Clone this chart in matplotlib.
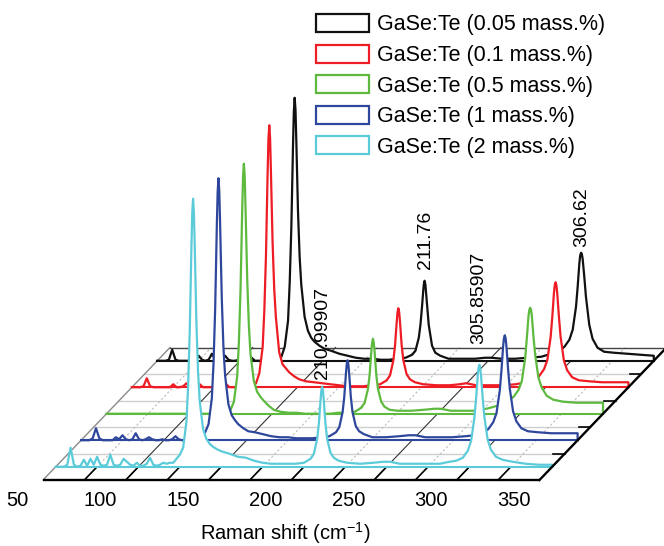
import numpy as np
import matplotlib
matplotlib.use("Agg")
import matplotlib.pyplot as plt
from matplotlib.patches import Patch

plt.rcParams['font.family'] = ['Liberation Sans', 'DejaVu Sans']
plt.rcParams['mathtext.fontset'] = 'custom'
plt.rcParams['mathtext.rm'] = 'Liberation Sans'
plt.rcParams['mathtext.it'] = 'Liberation Sans:italic'

# ---------------- data ----------------
raman_shift = [
    50, 53, 55, 57, 59, 61, 63, 65, 67, 69,
    71, 73, 75, 77, 79, 81, 83, 85, 87, 89,
    91, 93, 95, 97, 99, 101, 103, 105, 107, 109,
    111, 113, 115, 117, 119, 121, 123, 125, 127, 129,
    130, 131, 132, 132.5, 133, 133.5, 134, 135, 136, 137,
    139, 141, 143, 145, 148, 151, 155, 160, 165, 170,
    175, 180, 185, 190, 195, 200, 204, 206, 208, 209,
    210, 210.5, 211, 211.5, 212, 213, 214, 216, 218, 221,
    226, 234, 242, 248, 252, 258, 266, 274, 282, 288,
    292, 296, 299, 301, 303, 304, 305, 305.5, 306, 306.5,
    307, 308, 309, 311, 313, 316, 320, 326, 334, 342,
    350]

int_005 = [
    0, 0, 0, 1, 11, 1, 0, 0, 0, 0,
    0, 0, 5, 1, 0, 1, 7, 1, 0, 1,
    5, 1, 0, 0, 1, 0, 0, 1, 3, 0,
    0, 0, 0, 0, 0, 0, 1, 4, 14, 40,
    78, 134, 215, 249, 263, 251, 220, 150, 104, 76,
    44, 30, 23, 19, 15, 12, 10, 7, 5, 3,
    2, 2, 1, 1, 2, 3, 6, 10, 23, 36,
    55, 66, 76, 80, 76, 56, 36, 15, 8, 5,
    2, 2, 2, 3, 3, 2, 2, 3, 4, 7,
    9, 14, 21, 31, 54, 74, 97, 105, 108, 107,
    102, 84, 64, 36, 22, 13, 9, 8, 7, 6,
    5]

int_01 = [
    0, 0, 0, 1, 9, 1, 0, 0, 0, 0,
    0, 0, 3, 0, 0, 1, 4, 0, 0, 1,
    3, 0, 0, 0, 0, 0, 0, 1, 3, 0,
    0, 0, 0, 0, 0, 0, 1, 4, 14, 40,
    76, 131, 214, 248, 262, 249, 216, 145, 98, 70,
    35, 23, 19, 15, 11, 8, 6, 5, 4, 3,
    2, 1, 1, 1, 2, 3, 7, 12, 27, 42,
    65, 75, 79, 75, 65, 42, 27, 13, 8, 5,
    3, 2, 2, 3, 4, 2, 2, 2, 3, 5,
    7, 11, 18, 27, 50, 70, 94, 102, 105, 102,
    94, 71, 51, 27, 17, 10, 7, 6, 5, 5,
    5]

int_05 = [
    0, 0, 0, 0, 0, 0, 0, 0, 0, 0,
    0, 0, 0, 0, 0, 0, 0, 0, 0, 0,
    0, 0, 0, 0, 0, 0, 0, 0, 0, 0,
    0, 0, 0, 0, 0, 0, 1, 4, 12, 38,
    72, 125, 204, 237, 250, 238, 206, 136, 89, 60,
    33, 22, 17, 13, 8, 4, 2, 1, 1, 0,
    0, 0, 0, 1, 1, 2, 6, 11, 25, 39,
    62, 71, 75, 71, 62, 39, 25, 12, 7, 4,
    3, 3, 4, 5, 5, 3, 3, 3, 6, 9,
    12, 17, 24, 33, 56, 76, 98, 104, 106, 104,
    98, 77, 59, 36, 26, 18, 14, 12, 11, 11,
    11]

int_1 = [
    0, 0, 0, 2, 12, 2, 0, 0, 0, 0,
    3, 1, 5, 1, 0, 1, 7, 1, 0, 1,
    3, 1, 0, 0, 1, 0, 0, 1, 4, 1,
    0, 0, 0, 0, 1, 1, 3, 8, 16, 42,
    76, 131, 214, 248, 262, 249, 216, 142, 93, 65,
    36, 25, 20, 16, 12, 9, 8, 6, 4, 3,
    3, 2, 2, 2, 3, 4, 8, 13, 28, 43,
    66, 76, 80, 76, 66, 43, 28, 14, 9, 6,
    3, 3, 4, 5, 5, 3, 3, 3, 4, 5,
    7, 11, 18, 27, 50, 70, 94, 102, 105, 102,
    94, 71, 52, 29, 19, 12, 9, 8, 7, 7,
    7]

int_2 = [
    0, 0, 0, 2, 19, 2, 0, 1, 7, 1,
    8, 2, 10, 2, 1, 2, 12, 2, 1, 2,
    8, 5, 2, 1, 4, 1, 1, 3, 9, 2,
    1, 2, 4, 3, 4, 4, 8, 12, 19, 45,
    80, 136, 219, 254, 268, 255, 222, 145, 95, 66,
    38, 28, 23, 20, 17, 15, 13, 10, 9, 6,
    4, 3, 3, 3, 3, 4, 8, 13, 28, 43,
    66, 76, 80, 76, 66, 43, 28, 14, 9, 6,
    4, 3, 4, 5, 5, 3, 3, 3, 3, 5,
    6, 9, 16, 26, 49, 68, 91, 99, 102, 99,
    91, 69, 50, 27, 17, 10, 7, 5, 3, 2,
    2]

series_labels = ["GaSe:Te (0.05 mass.%)", "GaSe:Te (0.1 mass.%)",
                 "GaSe:Te (0.5 mass.%)", "GaSe:Te (1 mass.%)",
                 "GaSe:Te (2 mass.%)"]
series_values = [int_005, int_01, int_05, int_1, int_2]
series_colors = ["#111111", "#ee1c24", "#5dba3f", "#2e479c", "#5ccbd9"]

x_tick_values = [50, 100, 150, 200, 250, 300, 350]

peak_texts = ["211.76", "306.62", "210.99907", "305.85907"]
peak_positions = [211.76, 306.62, 210.99907, 305.85907]
peak_series = [0, 0, 4, 4]

# ---------------- geometry (oblique projection) ----------------
PX_PER_CM = 1.655
DX = 25.4 / PX_PER_CM      # x shift (cm-1) per depth unit
DY = 26.5                  # y shift per depth unit
X_MIN, X_MAX = 50, 350
DEPTH = 5
series_depth = [4.5, 3.5, 2.5, 1.5, 0.5]
peak_gaps = [14, 8, 8, 22]

fig = plt.figure(figsize=(6.64, 5.46), dpi=100)
ax = fig.add_axes([0, 0, 1, 1])
x_left = X_MIN - 43 / PX_PER_CM
ax.set_xlim(x_left, x_left + 664 / PX_PER_CM)
ax.set_ylim(-66, 480)
ax.axis('off')


def proj(x, d, z=0.0):
    x, d, z = np.broadcast_arrays(np.asarray(x, dtype=float),
                                  np.asarray(d, dtype=float),
                                  np.asarray(z, dtype=float))
    return x + d * DX, z + d * DY


# ---- floor ----
for d in range(1, DEPTH):
    xs, ys = proj([X_MIN, X_MAX], d)
    ax.plot(xs, ys, color="#cfcfcf", lw=1.0, zorder=1)

for xt in range(75, X_MAX, 25):
    xs, ys = proj([xt, xt], [0, DEPTH])
    if xt % 50 == 0:
        ax.plot(xs, ys, color="#333333", lw=0.8, zorder=2)
    else:
        ax.plot(xs, ys, color="#bdbdbd", lw=0.8, ls=(0, (2, 2)), zorder=1)
    xs, ys = proj([xt, xt], [0, 0.45])
    ax.plot(xs, ys, color="black", lw=1.2, zorder=3)

# edges
xs, ys = proj([X_MIN, X_MAX], 0)
ax.plot(xs, ys, color="black", lw=1.7, zorder=3, solid_capstyle='butt')
xs, ys = proj([X_MIN, X_MAX], DEPTH)
ax.plot(xs, ys, color="#444444", lw=1.0, zorder=3)
xs, ys = proj([X_MIN, X_MIN], [0, DEPTH])
ax.plot(xs, ys, color="#8a8a8a", lw=1.0, zorder=2)
xs, ys = proj([X_MAX, X_MAX], [0, DEPTH])
ax.plot(xs, ys, color="black", lw=1.7, zorder=40)
for d in range(1, DEPTH):
    xs, ys = proj([X_MAX - 7, X_MAX], d)
    ax.plot(xs, ys, color="black", lw=1.2, zorder=40)

# ---- spectra, back to front ----
for k, (vals, col, d) in enumerate(zip(series_values, series_colors, series_depth)):
    xs, ys = proj(raman_shift, d, vals)
    base = d * DY
    z = 10 + 3 * k
    ax.fill_between(xs, base, ys, color="white", lw=0, zorder=z)
    bx, by = proj([X_MIN, X_MAX], d)
    ax.plot(bx, by, color=col, lw=1.5, zorder=z + 1)
    ax.plot(np.append(xs, xs[-1]), np.append(ys, base), color=col, lw=1.6,
            zorder=z + 2, solid_joinstyle='round')

# ---- peak labels ----
for txt, pos, si, gap in zip(peak_texts, peak_positions, peak_series, peak_gaps):
    d = series_depth[si]
    h = np.interp(pos, raman_shift, series_values[si])
    tx, ty = proj(pos, d, h + gap)
    ax.text(float(tx), float(ty), txt, rotation=90, ha='center', va='bottom',
            fontsize=14, zorder=50)

# ---- x tick labels ----
for t in x_tick_values:
    ax.text(t - 1.0 * DX, -20, str(t), ha='center', va='center', fontsize=14.5)

ax.text(x_left + 285 / PX_PER_CM, -53, "Raman shift (cm$^{-1}$)", ha='center',
        va='center', fontsize=14.5)

# ---- legend ----
handles = [Patch(facecolor='white', edgecolor=c, lw=1.6) for c in series_colors]
fig.legend(handles, series_labels, loc='upper left',
           bbox_to_anchor=(316 / 664, 1 - 14 / 546), frameon=False, fontsize=15.5,
           handlelength=2.45, handleheight=0.92, handletextpad=0.4,
           labelspacing=0.42, borderpad=0, borderaxespad=0)

fig.savefig("out.png", dpi=100)
